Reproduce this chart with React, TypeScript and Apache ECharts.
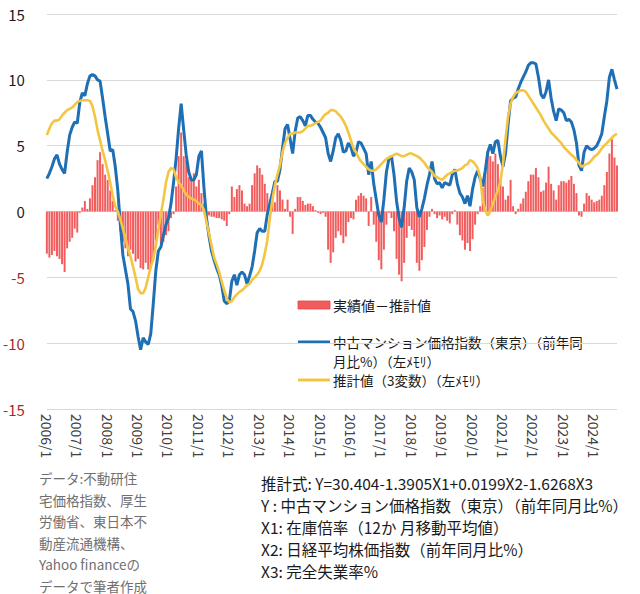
import React, { useEffect, useRef } from "react";
import * as echarts from "echarts";

const START_YEAR = 2006;
const MONTH_COUNT = 226; // 2006/1 .. 2024/10

const categories: string[] = [];
for (let k = 0; k < MONTH_COUNT; k++) {
  const y = START_YEAR + Math.floor(k / 12);
  const m = (k % 12) + 1;
  categories.push(`${y}/${m}`);
}

// 中古マンション価格指数（東京）（前年同月比%）
const priceIndex = [
  2.5, 2.9, 3.4, 4.0, 4.3, 3.6, 3.2, 2.9, 4.5, 5.8,
  6.4, 6.8, 6.7, 8.3, 9.0, 8.8, 9.7, 10.3, 10.4, 10.3,
  10.0, 9.9, 8.6, 7.2, 5.9, 4.6, 4.7, 3.4, 1.6, -1.0,
  -3.3, -4.4, -5.5, -7.4, -7.6, -8.3, -9.5, -10.5, -9.6, -9.9,
  -10.1, -9.3, -7.0, -4.5, -3.0, -2.7, -1.8, -1.0, -0.5, 0.6,
  2.2, 4.0, 6.3, 8.2, 6.2, 4.3, 3.0, 2.4, 2.4, 2.8,
  4.2, 4.6, 1.8, -0.5, -1.9, -3.0, -3.7, -4.3, -4.8, -5.6,
  -6.8, -7.0, -6.8, -5.3, -4.8, -5.6, -4.8, -4.6, -4.8, -5.5,
  -4.9, -4.2, -3.0, -1.6, -1.3, -1.5, -1.5, -0.2, 0.6, 1.4,
  2.3, 2.3, 3.2, 4.8, 6.3, 6.6, 5.5, 4.4, 6.1, 7.1,
  7.2, 6.9, 6.5, 7.3, 7.3, 7.0, 6.8, 6.7, 6.4, 6.0,
  5.6, 4.4, 3.8, 4.6, 5.6, 5.9, 5.4, 4.5, 4.6, 5.2,
  4.9, 4.2, 4.5, 5.3, 5.2, 4.8, 4.4, 2.8, 3.8, 2.1,
  0.9, -0.3, -0.8, 0.9, 3.0, 4.0, 4.2, 2.8, 0.8, -0.5,
  -1.2, 0.3, 2.3, 3.3, 3.0, 2.4, 0.3, -0.4, 0.2, 1.0,
  2.0, 2.8, 3.8, 2.5, 2.1, 2.2, 1.8, 2.2, 2.1, 2.0,
  2.8, 3.2, 2.1, 1.4, 1.1, 0.6, 1.2, 0.4, 1.7, 2.6,
  3.1, 2.5, 1.9, 3.1, 4.5, 5.1, 4.4, 5.3, 5.4, 4.2,
  3.4, 4.4, 6.6, 8.4, 8.6, 8.7, 9.3, 9.8, 10.2, 10.6,
  11.1, 11.3, 11.3, 11.2, 10.2, 8.9, 8.6, 9.1, 10.0, 8.6,
  7.6, 6.9, 7.8, 7.7, 7.5, 6.9, 7.0, 6.8, 6.2, 5.2,
  3.5, 3.1, 4.5, 5.0, 4.8, 4.7, 4.8, 5.0, 5.4, 5.9,
  7.2, 8.4, 10.2, 10.8, 10.0, 9.3,
];

// 推計値（3変数）
const estimate = [
  5.8, 6.3, 6.7, 6.9, 6.9, 7.0, 7.3, 7.5, 7.7, 7.8,
  7.9, 8.1, 8.3, 8.4, 8.45, 8.45, 8.45, 8.4, 8.0, 7.2,
  6.2, 5.4, 4.6, 3.9, 3.1, 2.2, 1.2, 0.4, 0.0, -0.6,
  -1.3, -2.0, -2.8, -3.4, -4.2, -5.0, -5.9, -6.2, -6.2, -5.8,
  -5.0, -4.2, -3.6, -2.6, -1.4, -0.2, 0.9, 2.2, 3.0, 3.3,
  3.2, 2.6, 2.2, 2.0, 1.6, 1.3, 1.1, 1.0, 0.9, 0.8,
  0.6, 0.5, 0.1, -0.8, -1.7, -2.6, -3.5, -4.0, -4.6, -5.3,
  -6.0, -6.6, -6.9, -6.8, -6.5, -6.3, -6.1, -6.0, -5.8, -5.6,
  -5.5, -5.2, -5.0, -4.8, -4.5, -4.0, -3.2, -2.2, -0.5, 0.9,
  2.0, 2.8, 3.5, 4.5, 5.2, 5.6, 5.9, 5.9, 6.0, 6.0,
  6.0, 6.1, 6.3, 6.5, 6.5, 6.6, 6.7, 6.8, 6.9, 7.2,
  7.4, 7.5, 7.7, 7.7, 7.6, 7.4, 7.2, 6.9, 6.5, 6.0,
  5.4, 4.8, 4.5, 4.1, 3.8, 3.6, 3.4, 3.2, 3.1, 3.1,
  3.2, 3.4, 3.6, 3.8, 4.0, 4.1, 4.2, 4.3, 4.4, 4.3,
  4.2, 4.2, 4.3, 4.4, 4.4, 4.3, 4.2, 4.1, 3.9, 3.7,
  3.4, 3.2, 3.0, 2.7, 2.6, 2.5, 2.4, 2.6, 2.8, 2.9,
  3.0, 3.1, 3.1, 3.2, 3.3, 3.5, 3.6, 3.9, 3.8, 3.6,
  3.3, 2.6, 0.9, 0.1, -0.3, 0.0, 0.6, 1.1, 1.6, 2.3,
  3.6, 5.5, 7.2, 8.2, 8.7, 9.0, 9.1, 9.2, 9.2, 9.1,
  8.8, 8.5, 8.2, 7.9, 7.6, 7.3, 6.9, 6.6, 6.3, 6.0,
  5.8, 5.6, 5.4, 5.2, 4.9, 4.7, 4.5, 4.3, 4.15, 3.9,
  3.7, 3.4, 3.5, 3.6, 3.7, 3.9, 4.15, 4.3, 4.5, 4.8,
  5.0, 5.2, 5.4, 5.6, 5.8, 5.9,
];

// 実績値－推計値
const residual = [
  -3.2, -3.5, -3.3, -3.0, -3.4, -3.6, -4.0, -4.6, -2.8, -2.3,
  -2.0, -1.3, -1.6, -0.1, 0.3, 0.8, 0.2, 1.0, 2.0, 2.6,
  3.9, 4.5, 3.6, 2.8, 2.4, 1.6, 0.8, 0.1, -0.7, -1.5,
  -2.3, -2.8, -3.4, -2.9, -3.2, -3.8, -3.6, -4.3, -4.4, -3.9,
  -4.4, -4.3, -3.7, -2.2, -1.0, -2.5, -2.3, -1.8, -1.5, -0.5,
  -0.2, 1.9, 4.2, 6.0, 4.2, 3.9, 2.6, 2.4, 2.9, 1.9,
  2.4, 1.4, 0.6, -0.3, -0.3, -0.4, -0.4, -0.5, -0.5, -0.6,
  -0.7, -1.1, -0.2, 1.9, 1.1, 1.7, 2.0, 1.6, 0.6, 0.4,
  0.6, 2.0, 2.9, 3.5, 3.3, 2.8, 2.1, 1.4, 0.9, 1.6,
  0.7, 2.0, 1.6, 0.9, 0.2, 0.9, -0.4, -1.7, 0.2, 1.1,
  1.1, 0.8, 0.5, 0.6, 0.6, 0.4, 0.1, -0.1, -0.2, -0.1,
  -0.4, -2.9, -3.9, -3.1, -2.0, -1.5, -1.8, -2.4, -1.9, -0.8,
  -0.5, -0.6, 0.9, 1.2, 1.4, 1.2, 1.0, -1.1, 1.1, -1.0,
  -2.3, -3.7, -4.4, -2.9, -1.0, -0.1, -0.5, -1.5, -3.6, -4.8,
  -5.3, -3.9, -2.0, -1.1, -1.4, -1.9, -3.9, -4.5, -3.7, -2.7,
  -1.4, -0.4, 0.2, -0.2, -0.5, -0.3, -0.6, -0.4, -0.7, -0.9,
  -0.2, 0.1, -1.0, -1.8, -2.2, -2.9, -2.4, -3.0, -2.1, -1.0,
  -0.2, 0.4, 1.8, 3.0, 4.6, 4.2, 3.8, 4.4, 3.6, 2.4,
  1.9, 0.9, 1.2, 2.4, 0.4, -0.2, 0.2, 0.6, 1.0, 1.5,
  2.3, 2.8, 2.8, 3.3, 2.6, 1.5, 1.6, 2.2, 3.4, 2.1,
  1.6, 0.9, 2.0, 2.3, 2.3, 2.2, 2.4, 2.7, 2.1, 1.4,
  -0.3, -0.4, 0.6, 1.4, 1.2, 0.9, 0.7, 0.8, 0.9, 1.2,
  2.0, 3.0, 4.4, 5.5, 4.1, 3.5,
];

const seriesNames = [
  "実績値－推計値",
  "中古マンション価格指数（東京）（前年同月比%）（左ﾒﾓﾘ）",
  "推計値（3変数）（左ﾒﾓﾘ）",
];

const blueLegendText = "中古マンション価格指数（東京）（前年同\n月比%）（左ﾒﾓﾘ）";

const sourceLines = [
  "データ:不動研住",
  "宅価格指数、厚生",
  "労働省、東日本不",
  "動産流通機構、",
  "Yahoo financeの",
  "データで筆者作成",
];

const formulaLines = [
  "推計式: Y=30.404-1.3905X1+0.0199X2-1.6268X3",
  "Y : 中古マンション価格指数（東京）（前年同月比%）",
  "X1: 在庫倍率（12か 月移動平均値）",
  "X2: 日経平均株価指数（前年同月比%）",
  "X3: 完全失業率%",
];

const FONT = '"Noto Sans CJK JP", "Noto Sans", sans-serif';
const RED = "#f25c5c";
const BLUE = "#1f6fb5";
const YELLOW = "#f4c542";

export default function App() {
  const ref = useRef<HTMLDivElement>(null);

  useEffect(() => {
    if (!ref.current) return;
    const chart = echarts.init(ref.current, undefined, { renderer: "svg" });

    const txt = (
      text: string,
      x: number,
      y: number,
      size: number,
      fill: string,
      vAlign: string = "middle",
      lineHeight?: number
    ) => ({
      type: "text",
      x,
      y,
      silent: true,
      style: {
        text,
        fill,
        font: `${size}px ${FONT}`,
        fontSize: size,
        fontFamily: FONT,
        lineHeight: lineHeight ?? size + 2,
        textAlign: "left",
        textVerticalAlign: vAlign,
        align: "left",
        verticalAlign: vAlign,
      },
    });

    const graphics: any[] = [
      // gap in top gridline (cropped title remnant)
      { type: "rect", shape: { x: 179, y: 8, width: 27, height: 12 }, style: { fill: "#ffffff" }, silent: true },
      // legend
      { type: "rect", shape: { x: 298, y: 301, width: 32, height: 8 }, style: { fill: RED, stroke: "#e04848", lineWidth: 0.8 }, silent: true },
      txt(seriesNames[0], 333, 305, 14, "#1a1a1a"),
      { type: "line", shape: { x1: 298, y1: 342, x2: 330, y2: 342 }, style: { stroke: BLUE, lineWidth: 3 }, silent: true },
      txt(blueLegendText, 333, 332.5, 13.5, "#1a1a1a", "top", 19),
      { type: "line", shape: { x1: 298, y1: 380, x2: 330, y2: 380 }, style: { stroke: YELLOW, lineWidth: 3 }, silent: true },
      txt(seriesNames[2], 333, 380, 13.5, "#1a1a1a"),
    ];
    sourceLines.forEach((s, k) => graphics.push(txt(s, 39, 478 + k * 21.5, 13.5, "#707070")));
    formulaLines.forEach((s, k) => graphics.push(txt(s, 261, 483 + k * 22, 15.5, "#1a1a1a")));

    chart.setOption({
      animation: false,
      textStyle: { fontFamily: FONT },
      grid: { left: 43, right: 23, top: 14, bottom: 185, containLabel: false },
      xAxis: {
        type: "category",
        data: categories,
        boundaryGap: false,
        axisLine: { show: false },
        axisTick: { show: false },
        splitLine: { show: false },
        axisLabel: {
          interval: (index: number) => index % 12 === 0,
          rotate: -90,
          margin: 5,
          fontSize: 14,
          color: "#404040",
          fontFamily: FONT,
        },
      },
      yAxis: {
        type: "value",
        min: -15,
        max: 15,
        interval: 5,
        axisLine: { show: false },
        axisTick: { show: false },
        splitLine: { lineStyle: { color: "#d9d9d9", width: 1 } },
        axisLabel: {
          fontSize: 15,
          margin: 22,
          fontFamily: FONT,
          color: (value: any) => (Number(value) < 0 ? "#a82828" : "#1a1a1a"),
        },
      },
      series: [
        {
          name: seriesNames[0],
          type: "bar",
          data: residual,
          barCategoryGap: "22%",
          itemStyle: { color: RED },
          silent: true,
        },
        {
          name: seriesNames[1],
          type: "line",
          data: priceIndex,
          symbol: "none",
          lineStyle: { color: BLUE, width: 3 },
          itemStyle: { color: BLUE },
          silent: true,
        },
        {
          name: seriesNames[2],
          type: "line",
          data: estimate,
          symbol: "none",
          lineStyle: { color: YELLOW, width: 2.6 },
          itemStyle: { color: YELLOW },
          silent: true,
        },
      ],
      graphic: graphics,
    });

    return () => chart.dispose();
  }, []);

  return (
    <div
      ref={ref}
      style={{ position: "absolute", left: 0, top: 0, width: 640, height: 594, background: "#ffffff" }}
    />
  );
}
